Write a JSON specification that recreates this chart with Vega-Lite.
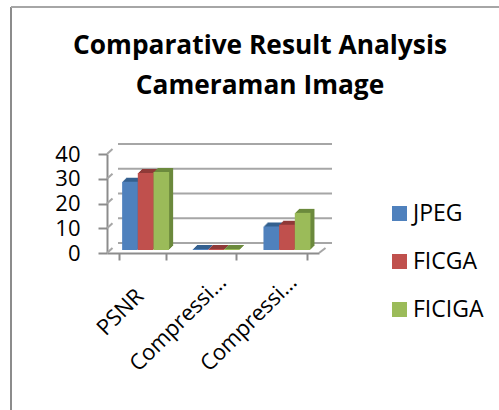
{
"$schema":"https://vega.github.io/schema/vega-lite/v6.json",
"width":212,"height":99,
"autosize":{"type":"none"},
"padding":{"left":107,"top":154,"right":180,"bottom":157},
"background":"white",
"title":{"text":["Comparative Result Analysis","Cameraman Image"],"font":"Open Sans","fontWeight":"bold","fontSize":26.3,"lineHeight":40,"color":"#000000","anchor":"middle","dx":47,"offset":-93},
"config":{"view":{"stroke":null},"font":"Open Sans","axis":{"labelOverlap":false},"axisY":{"labelOverlap":false,"tickCount":5,"title":null,"grid":false,"domainColor":"#8c8c8c","domainWidth":2,"tickColor":"#8c8c8c","tickWidth":2,"tickSize":9,"labelFont":"Open Sans","labelFontSize":22,"labelColor":"#000000","labelPadding":18}},
"datasets":{
"bars":[
{"metric":"PSNR","method":"JPEG","value":27.6},
{"metric":"PSNR","method":"FICGA","value":31.1},
{"metric":"PSNR","method":"FICIGA","value":31.5},
{"metric":"Compression Ratio","method":"JPEG","value":0.4},
{"metric":"Compression Ratio","method":"FICGA","value":0.4},
{"metric":"Compression Ratio","method":"FICIGA","value":0.4},
{"metric":"Compression Time","method":"JPEG","value":9.5},
{"metric":"Compression Time","method":"FICGA","value":10.2},
{"metric":"Compression Time","method":"FICIGA","value":15}
],
"ticks":[{"v":0},{"v":10},{"v":20},{"v":30},{"v":40}]
},
"resolve":{"scale":{"color":"independent","xOffset":"independent"}},
"layer":[
{"data":{"name":"ticks"},"mark":{"type":"rule","stroke":"#a6a6a6","strokeWidth":2,"yOffset":-10},
 "encoding":{"x":{"value":11},"x2":{"value":225},"y":{"field":"v","type":"quantitative","scale":{"domain":[0,40],"nice":false},"axis":{"labelOverlap":false,"tickCount":5,"title":null}}}},
{"data":{"name":"ticks"},"mark":{"type":"point","shape":"M0,0L1,-0.91","size":121,"filled":false,"stroke":"#a6a6a6","strokeWidth":2,"opacity":1},
 "encoding":{"x":{"value":0},"y":{"field":"v","type":"quantitative"}}},
{"data":{"values":[{"v":0}]},"mark":{"type":"point","shape":"M0,0L1,-0.77","size":169,"filled":false,"stroke":"#a6a6a6","strokeWidth":2,"opacity":1},
 "encoding":{"x":{"value":212},"y":{"field":"v","type":"quantitative"}}},
{"data":{"values":[{"a":1}]},"mark":{"type":"rule","stroke":"#8c8c8c","strokeWidth":2},
 "encoding":{"x":{"value":-96},"y":{"value":-147},"y2":{"value":256}}},
{"data":{"values":[{"a":1}]},"mark":{"type":"rule","stroke":"#a6a6a6","strokeWidth":2},
 "encoding":{"x":{"value":-96},"x2":{"value":392},"y":{"value":-147}}},
{"data":{"name":"bars"},"mark":{"type":"bar","yOffset":-7},
 "encoding":{"x":{"field":"metric","type":"nominal","sort":null,"scale":{"paddingInner":0.335,"paddingOuter":0.1675},
  "axis":{"title":null,"tickBand":"extent","domainColor":"#8c8c8c","domainWidth":2,"tickColor":"#8c8c8c","tickWidth":2,"tickSize":7,"labelAngle":-45,"labelAlign":"right","labelBaseline":"top","labelPadding":{"condition":{"test":"datum.label=='PSNR'","value":25},"value":11},"labelOffset":{"condition":{"test":"datum.label=='PSNR'","value":-10},"value":2},"labelFont":"Open Sans","labelFontSize":22,"labelColor":"#000000","labelExpr":"datum.label=='PSNR'?'PSNR':(datum.label==''?'':'Compressi…')"}},
  "xOffset":{"field":"method","sort":["JPEG","FICGA","FICIGA"],"scale":{"range":[7.3,54.3]}},"y":{"field":"value","type":"quantitative"},
  "color":{"field":"method","sort":["JPEG","FICGA","FICIGA"],"scale":{"range":["#34608f","#8f3a38","#6c8a3d"]},"legend":null}}},
{"data":{"name":"bars"},"mark":{"type":"bar","yOffset":-6},
 "encoding":{"x":{"field":"metric","type":"nominal","sort":null},"xOffset":{"field":"method","sort":["JPEG","FICGA","FICIGA"],"scale":{"range":[6.3,53.3]}},"y":{"field":"value","type":"quantitative"},
  "color":{"field":"method","sort":["JPEG","FICGA","FICIGA"],"scale":{"range":["#34608f","#8f3a38","#6c8a3d"]},"legend":null}}},
{"data":{"name":"bars"},"mark":{"type":"bar","yOffset":-5},
 "encoding":{"x":{"field":"metric","type":"nominal","sort":null},"xOffset":{"field":"method","sort":["JPEG","FICGA","FICIGA"],"scale":{"range":[5.3,52.3]}},"y":{"field":"value","type":"quantitative"},
  "color":{"field":"method","sort":["JPEG","FICGA","FICIGA"],"scale":{"range":["#34608f","#8f3a38","#6c8a3d"]},"legend":null}}},
{"data":{"name":"bars"},"mark":{"type":"bar","yOffset":-4},
 "encoding":{"x":{"field":"metric","type":"nominal","sort":null},"xOffset":{"field":"method","sort":["JPEG","FICGA","FICIGA"],"scale":{"range":[4.3,51.3]}},"y":{"field":"value","type":"quantitative"},
  "color":{"field":"method","sort":["JPEG","FICGA","FICIGA"],"scale":{"range":["#34608f","#8f3a38","#6c8a3d"]},"legend":null}}},
{"data":{"name":"bars"},"mark":{"type":"bar","yOffset":-3},
 "encoding":{"x":{"field":"metric","type":"nominal","sort":null},"xOffset":{"field":"method","sort":["JPEG","FICGA","FICIGA"],"scale":{"range":[3.3,50.3]}},"y":{"field":"value","type":"quantitative"},
  "color":{"field":"method","sort":["JPEG","FICGA","FICIGA"],"scale":{"range":["#4F81BD","#C0504D","#9BBB59"]},
   "legend":{"title":null,"orient":"none","legendX":281,"legendY":48,"symbolType":"square","symbolSize":225,"symbolStrokeWidth":0,"labelFont":"Open Sans","labelFontSize":23,"labelColor":"#000000","rowPadding":24,"labelOffset":2}}}}
]
}
